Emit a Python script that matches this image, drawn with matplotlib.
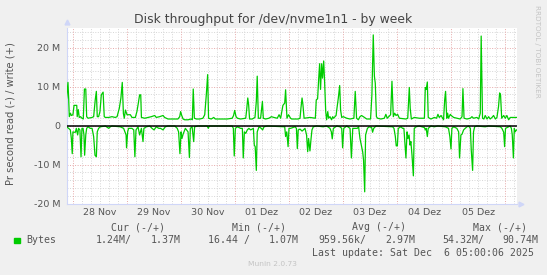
import numpy as np
import matplotlib

matplotlib.use("Agg")
import matplotlib.pyplot as plt

W, H = 547, 275

# hours since 28 Nov 00:00, values in MB/s (write positive, read negative)
write_hours = [
    -2.7, -2.1, -1.8, -1.5, -1.0, -0.6, 0.1, 0.6, 1.8, 2.0, 2.5, 2.9, 3.5, 4.1, 4.7,
    5.2, 5.8, 6.2, 6.8, 8.6, 9.3, 10.0, 10.5, 10.9, 11.5, 12.1, 12.7, 13.5, 14.0,
    14.5, 16.0, 17.4, 18.9, 19.7, 20.7, 21.4, 22.0, 22.5, 22.9, 23.4, 24.1, 25.6,
    26.3, 27.8, 28.5, 29.0, 29.7, 30.2, 30.5, 32.0, 33.4, 34.9, 36.4, 37.1, 38.6,
    40.1, 40.8, 42.3, 43.8, 46.7, 47.5, 47.9, 48.4, 49.0, 49.7, 51.2, 52.6, 53.1,
    53.5, 54.0, 54.9, 56.4, 57.8, 58.6, 59.3, 59.9, 60.3, 61.5, 62.6, 63.3, 63.9,
    66.4, 68.6, 70.8, 71.4, 71.9, 72.5, 73.1, 74.5, 76.8, 77.2, 77.7, 78.1, 78.5,
    79.7, 80.9, 81.5, 81.9, 82.4, 83.4, 84.2, 84.6, 85.6, 87.1, 88.2, 89.3, 90.8,
    91.6, 92.3, 93.3, 94.1, 94.5, 95.1, 95.8, 96.7, 97.2, 100.1, 100.9, 101.3,
    101.8, 102.2, 102.7, 105.3, 107.7, 108.1, 108.7, 109.2, 109.6, 110.0, 110.5,
    110.9, 111.4, 111.8, 112.3, 112.7, 113.2, 113.6, 114.2, 114.9, 115.4, 115.8,
    116.9, 117.3, 117.9, 118.5, 118.9, 119.4, 120.1, 121.6, 123.1, 124.8, 125.4,
    126.0, 126.8, 127.5, 128.2, 129.0, 130.5, 132.2, 132.8, 133.4, 133.9, 134.3,
    134.8, 135.3, 136.8, 138.3, 139.0, 139.6, 141.1, 141.7, 142.3, 142.9, 143.5,
    144.2, 145.0, 147.9, 148.7, 149.1, 149.4, 149.8, 150.3, 151.6, 153.8, 156.1,
    156.5, 156.9, 157.4, 157.8, 159.0, 160.5, 161.5, 162.1, 162.7, 163.5, 164.2,
    164.6, 165.1, 165.5, 166.0, 166.4, 166.8, 167.6, 168.0, 169.1, 172.0, 172.8,
    173.2, 173.7, 175.0, 176.5, 177.2, 177.9, 179.4, 180.2, 180.9, 181.3, 181.9,
    182.5, 183.1, 183.9, 184.6, 185.3, 186.1, 186.8, 187.6, 188.3, 189.0, 189.5,
    189.9, 190.4, 191.3, 192.0, 192.7, 193.5, 194.2, 197.2,
]
write_mb = [
    7.1, 11.1, 7.1, 2.3, 3.2, 2.6, 2.8, 5.2, 5.2, 2.3, 4.1, 2.1, 2.3, 1.9, 1.7,
    9.4, 9.4, 2.3, 1.9, 2.1, 2.3, 6.6, 8.8, 2.3, 2.3, 3.6, 7.9, 8.6, 2.3,
    2.1, 2.1, 2.3, 2.1, 2.3, 4.5, 7.1, 11.1, 3.1, 1.9, 4.0, 2.8, 2.8,
    2.1, 2.1, 3.6, 5.3, 7.9, 7.9, 2.1, 1.9, 2.1, 2.3, 2.6, 2.1, 2.3,
    2.6, 2.1, 1.7, 1.7, 1.7, 2.3, 3.6, 2.6, 1.7, 1.5, 1.5, 1.7, 1.5,
    9.4, 1.9, 1.7, 1.7, 1.9, 2.8, 7.9, 13.1, 1.9, 1.7, 2.1, 1.7, 1.7,
    1.7, 1.7, 1.9, 2.6, 3.9, 2.3, 1.9, 1.7, 1.9, 4.0, 7.1, 5.3, 1.7,
    1.7, 2.1, 6.2, 12.7, 1.9, 1.9, 6.2, 1.9, 1.7, 1.9, 2.3, 2.1, 1.9,
    2.8, 1.9, 5.2, 5.8, 9.2, 1.9, 2.8, 1.9, 1.7, 1.7, 1.9, 4.5,
    7.1, 5.3, 1.9, 2.1, 1.9, 6.6, 6.9, 12.2, 15.9, 9.3, 15.9,
    12.2, 16.6, 11.4, 3.6, 1.5, 3.6, 1.9, 2.3, 1.5, 2.3, 1.9,
    2.6, 4.5, 7.1, 10.3, 4.0, 2.1, 2.3, 1.9, 1.7, 1.9, 8.8,
    1.9, 1.5, 2.3, 2.6, 2.3, 1.7, 1.7, 7.9, 23.3, 12.7, 10.9,
    2.3, 1.9, 1.7, 1.9, 2.9, 1.9, 2.8, 11.4, 2.3, 3.2, 2.6,
    2.9, 1.9, 1.7, 1.9, 6.2, 9.8, 4.5, 1.7, 2.1, 1.9, 1.9,
    9.8, 9.3, 11.2, 2.1, 1.7, 2.1, 1.9, 2.9, 2.1, 2.6, 1.9,
    1.5, 6.6, 8.8, 1.9, 3.2, 1.9, 2.9, 2.6, 2.1, 1.7, 2.3,
    9.5, 1.9, 1.7, 1.9, 2.3, 1.9, 2.1, 1.7, 3.2, 23.0, 1.9,
    1.7, 2.6, 1.7, 2.3, 1.7, 2.1, 2.6, 1.7, 2.1, 4.9, 8.4,
    7.9, 1.9, 2.6, 1.9, 2.6, 1.5, 2.1, 2.1,
]
read_hours = [
    -2.7, -1.8, -1.05, -0.6, -0.2, 0.1, 0.6, 1.2, 1.6, 2.2, 2.6, 3.2, 3.7, 4.1,
    4.6, 5.0, 5.3, 5.8, 6.2, 6.8, 7.8, 8.6, 9.3, 9.9, 10.5, 10.9, 11.5, 12.3,
    14.5, 16.0, 16.7, 17.4, 21.1, 22.6, 23.7, 23.9, 24.4, 24.8, 26.3, 27.1, 27.6,
    28.1, 29.0, 29.7, 30.5, 31.2, 31.6, 32.7, 34.2, 35.2, 36.1, 37.1, 38.2, 39.0,
    40.1, 41.1, 42.3, 45.3, 46.4, 47.0, 47.6, 48.1, 48.5, 49.0, 50.0, 51.2, 51.8,
    52.2, 53.0, 53.7, 54.1, 55.6, 59.7, 60.2, 60.6, 63.0, 70.8, 71.3, 71.7, 72.2,
    73.1, 74.5, 75.3, 75.7, 76.2, 76.8, 77.5, 78.2, 79.0, 80.2, 80.6, 81.0, 81.5,
    81.9, 82.7, 83.7, 84.3, 84.9, 86.4, 94.1, 94.5, 95.0, 95.6, 96.0, 96.7, 98.7,
    99.3, 99.7, 100.1, 100.9, 101.8, 102.4, 103.1, 103.8, 104.3, 104.7, 105.3,
    105.8, 106.2, 106.8, 108.3, 111.2, 112.7, 114.2, 114.8, 115.2, 115.7, 117.2,
    118.6, 119.4, 119.8, 120.3, 121.6, 123.1, 123.7, 124.3, 126.3, 126.9, 127.5,
    128.1, 128.7, 129.1, 129.6, 130.0, 130.8, 131.6, 132.7, 133.1, 133.6, 134.6,
    142.0, 142.6, 143.2, 143.6, 144.1, 144.5, 145.7, 146.4, 147.0, 147.5, 147.9,
    148.4, 148.8, 149.3, 149.7, 150.1, 150.6, 151.2, 151.6, 152.4, 153.8, 156.1,
    156.5, 156.9, 157.4, 157.8, 159.0, 160.5, 162.0, 165.4, 166.8, 167.4, 167.9,
    168.3, 169.1, 169.8, 170.5, 171.3, 171.7, 172.3, 172.8, 173.5, 174.2, 175.0,
    175.7, 176.5, 176.9, 177.5, 177.9, 178.4, 179.4, 183.1, 184.6, 189.8, 190.5,
    191.3, 191.7, 192.1, 193.5, 194.2, 194.7, 195.1, 195.6, 196.0, 196.4, 196.9,
    197.2,
]
read_mb = [
    -0.3, -0.7, -1.1, -3.3, -7.2, -1.6, -1.7, -1.7, -0.7, -2.4, -0.7, -1.1, -8.0, -0.7,
    -0.7, -2.4, -7.6, -2.4, -0.7, -0.3, -0.7, -0.7, -2.8, -7.6, -8.0, -1.6, -0.7, -0.3,
    -0.1, -0.7, -0.3, -0.1, -0.3, -0.7, -2.4, -5.7, -1.6, -0.7, -0.7, -1.1, -8.0,
    -1.1, -0.3, -2.4, -0.7, -4.1, -0.7, -0.3, -0.1, -0.7, -1.1, -0.3, -0.7, -0.7,
    -1.1, -0.3, -0.1, -0.1, -0.7, -1.6, -7.2, -1.6, -3.3, -2.2, -0.7, -1.6, -8.2,
    -0.7, -0.3, -4.1, -0.3, -0.1, -0.1, -0.7, -0.1, -0.1, -0.1, -0.7, -7.8, -0.7,
    -0.3, -0.7, -0.7, -8.3, -1.6, -2.0, -1.1, -0.7, -1.1, -0.7, -5.0, -5.4, -11.5,
    -1.6, -0.3, -0.7, -1.1, -0.3, -0.1, -0.3, -2.8, -1.6, -5.4, -0.7, -0.7, -0.3,
    -0.7, -5.9, -1.1, -0.9, -1.4, -1.1, -0.7, -2.4, -6.7, -3.3, -6.5,
    -3.3, -1.1, -0.3, -0.1, -0.3, -0.1, -0.7, -1.6, -3.4, -0.7, -0.1,
    -0.3, -0.7, -5.7, -0.7, -0.1, -0.7, -8.3, -0.7, -0.7, -0.3, -3.3,
    -5.0, -6.7, -8.9, -17.0, -2.4, -0.7, -0.3, -0.5, -1.7, -0.7, -0.1,
    -0.3, -0.7, -2.8, -5.2, -5.2, -0.7, -0.3, -0.7, -0.7, -5.0, -8.3,
    -1.6, -3.3, -2.4, -5.0, -4.1, -7.6, -12.9, -0.7, -0.3, -0.1, -0.5,
    -1.1, -0.7, -2.8, -0.7, -0.1, -0.3, -0.1, -0.3, -0.7, -2.8, -6.0,
    -0.7, -0.3, -0.5, -0.7, -1.6, -8.3, -2.4, -2.2, -1.1, -0.7, -0.3,
    -0.1, -0.7, -6.3, -11.5, -1.6, -0.3, -0.1, -0.3, -0.1, -0.3, -0.7,
    -1.7, -5.4, -0.7, -0.3, -0.1, -0.7, -2.4, -8.3, -0.7, -1.6, -1.1,
    -1.1,
]

day_labels = ["28 Nov", "29 Nov", "30 Nov", "01 Dez", "02 Dez", "03 Dez", "04 Dez", "05 Dez"]
y_ticks = [-20, -10, 0, 10, 20]
y_tick_labels = ["-20 M", "-10 M", "0", "10 M", "20 M"]

legend_headers = ["Cur (-/+)", "Min (-/+)", "Avg (-/+)", "Max (-/+)"]
legend_values = ["1.24M/", "1.37M", "16.44 /", "1.07M", "959.56k/", "2.97M", "54.32M/", "90.74M"]

X0, X1 = -2.75, 197.2
Y0, Y1 = -20, 25.2

BG = "#F0F0F0"
GREEN = "#00CC00"
FONT = "#555555"
AXIS = "#CFD6F8"
MGRID = "#E6A9A9"
GRID = "#D6D6D6"


def fx(x):
    return x / W


def fy(y):
    return 1 - y / H


fig = plt.figure(figsize=(W / 100, H / 100), dpi=100, facecolor=BG)
left, right, top, bottom = 66.5, 517, 27.5, 203.5
ax = fig.add_axes([fx(left), fy(bottom), (right - left) / W, (bottom - top) / H])
ax.set_facecolor("white")
ax.set_xlim(X0, X1)
ax.set_ylim(Y0, Y1)

dot = (0, (1, 1.6))
# minor grid: 4 h / 2 M
for h in np.arange(-0, X1, 4):
    if h % 24:
        ax.axvline(h, color=GRID, lw=0.7, ls=dot, zorder=1)
for v in np.arange(-20, Y1, 2):
    if v % 10:
        ax.axhline(v, color=GRID, lw=0.7, ls=dot, zorder=1)
# major grid: days / 10 M
for h in np.arange(0, X1, 24):
    ax.axvline(h, color=MGRID, lw=0.7, ls=dot, zorder=1)
for v in y_ticks:
    ax.axhline(v, color=MGRID, lw=0.7, ls=dot, zorder=1)

ax.plot(write_hours, write_mb, color=GREEN, lw=0.9, zorder=3)
ax.plot(read_hours, read_mb, color=GREEN, lw=0.9, zorder=3)
ax.axhline(0, color="black", lw=1.1, zorder=4)

for s in ["top", "right"]:
    ax.spines[s].set_visible(False)
for s in ["left", "bottom"]:
    ax.spines[s].set_color(AXIS)
    ax.spines[s].set_linewidth(0.8)
ax.plot([0], [1.03], marker="^", color=AXIS, ms=3.5, transform=ax.transAxes, clip_on=False)
ax.plot([1.008], [0], marker=">", color=AXIS, ms=3.5, transform=ax.transAxes, clip_on=False)

ax.set_yticks(y_ticks, y_tick_labels)
ax.set_xticks(np.arange(12, 12 + 24 * len(day_labels), 24), day_labels)
ax.tick_params(length=0, labelsize=6.8, colors=FONT)
ax.tick_params(axis="y", pad=4.6)
ax.tick_params(axis="x", pad=3.5)

fig.text(fx(273.3), fy(20), "Disk throughput for /dev/nvme1n1 - by week",
         ha="center", va="center", fontsize=8.9, color="#444444")
fig.text(fx(10.7), fy(114), "Pr second read (-) / write (+)", rotation=90,
         ha="center", va="center", fontsize=7.2, color=FONT)
fig.text(fx(537), fy(5), "RRDTOOL / TOBI OETIKER", rotation=270,
         ha="center", va="top", fontsize=5.2, color="#C4C4C4")

mono = dict(family="DejaVu Sans Mono", fontsize=7.15, color=FONT, va="center")
for hx, txt in zip([111, 232, 352.4, 473], legend_headers):
    fig.text(fx(hx), fy(227.3), txt, ha="left", **mono)
fig.patches.append(plt.Rectangle((fx(14), fy(243.3)), 6 / W, 5.6 / H,
                                 transform=fig.transFigure, color=GREEN))
fig.text(fx(26.7), fy(240), "Bytes", ha="left", **mono)
for vx, txt in zip([95.7, 150.7, 208, 268.7, 318.2, 385.5, 442.4, 502.4], legend_values):
    fig.text(fx(vx), fy(240), txt, ha="left", **mono)
fig.text(fx(311.6), fy(252.5), "Last update: Sat Dec  6 05:00:06 2025", ha="left", **mono)
fig.text(fx(272.5), fy(263.7), "Munin 2.0.73", ha="center", va="center",
         fontsize=5.4, color="#C4C4C4")

fig.savefig("out.png", dpi=100, facecolor=BG)
